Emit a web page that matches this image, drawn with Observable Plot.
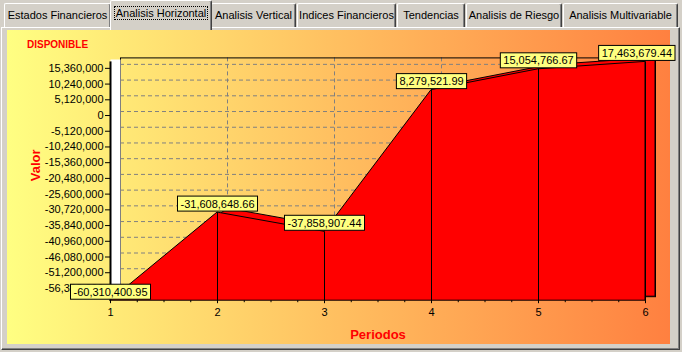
<!DOCTYPE html>
<html><head><meta charset="utf-8">
<script src="https://cdn.jsdelivr.net/npm/d3@7"></script>
<script src="https://cdn.jsdelivr.net/npm/@observablehq/plot@0.6"></script>
<style>
html,body{margin:0;padding:0;}
body{width:682px;height:352px;background:#d4d0c8;position:relative;overflow:hidden;font-family:"Liberation Sans",Arial,sans-serif;}
.tab{position:absolute;top:3px;height:25px;box-sizing:border-box;background:#d4d0c8;border-top:1px solid #fff;border-left:1px solid #fff;border-right:1px solid #404040;box-shadow:inset -1px 0 #808080;border-radius:2px 2px 0 0;font-size:11px;text-align:center;line-height:22px;color:#000;white-space:nowrap;z-index:1}
.tab.sel{top:0;height:30px;z-index:3;line-height:24px}
.tab.sel span{outline:1px dotted #000;outline-offset:0px;padding:0 1px}
#panel{position:absolute;left:1px;top:27px;width:679px;height:323px;box-sizing:border-box;border-top:1px solid #fff;border-left:1px solid #fff;border-right:1px solid #404040;border-bottom:1px solid #404040;box-shadow:inset -1px -1px #808080;z-index:2}
#chart{position:absolute;left:7px;top:30px;width:663px;height:314px;background:linear-gradient(to right,#ffff82 0%,#ffbf60 50%,#ff8040 100%);z-index:2}
#chart svg{overflow:visible;position:absolute;left:0;top:0}
#title{position:absolute;left:27px;top:39px;font-size:10px;font-weight:bold;color:#ff0000;z-index:4;line-height:12px}
</style></head>
<body>
<div id="panel"></div>
<div id="chart"></div>
<div id="title">DISPONIBLE</div>
<script>
// ---- data ----
const tabNames = ["Estados Financieros","Analisis Horizontal","Analisis Vertical","Indices Financieros","Tendencias","Analisis de Riesgo","Analisis Multivariable"];
const tabLefts = [4,111,211,297,397,466,563];
const tabRights = [111,211,296,396,465,562,678];
const selectedTab = 1;
const periods = [1,2,3,4,5,6];
const values = [-60310400.95,-31608648.66,-37858907.44,8279521.99,15054766.67,17463679.44];
const yTicks = [15360000,10240000,5120000,0,-5120000,-10240000,-15360000,-20480000,-25600000,-30720000,-35840000,-40960000,-46080000,-51200000,-56320000];
const xGridTicks = [2,3,4,5];
const minorTicks = [1,1.25,1.5,1.75,2,2.25,2.5,2.75,3,3.25,3.5,3.75,4,4.25,4.5,4.75,5,5.25,5.5,5.75,6];
const yLabel = "Valor";
const xLabel = "Periodos";

// ---- tabs ----
tabNames.forEach((t,i)=>{
  const d = document.createElement("div");
  d.className = "tab" + (i===selectedTab?" sel":"");
  let l = tabLefts[i], r = tabRights[i];
  if (i===selectedTab){ l -= 1; r += 1; }
  d.style.left = l+"px"; d.style.width = (r-l)+"px";
  d.innerHTML = "<span>"+t+"</span>";
  document.body.appendChild(d);
});

const loc = d3.formatLocale({decimal:".",thousands:",",grouping:[3],currency:["",""],minus:"-"});
const fmtInt = loc.format(",");
const fmt2 = loc.format(",.2f");

const data = periods.map((p,i)=>({period:p,value:values[i]}));
const yMin = d3.min(values), yMax = d3.max(values);
const grid = {stroke:"#808080",strokeOpacity:1,strokeDasharray:"4,3",dx:10,dy:-4};
const labelTexts = new Set(values.map(v=>fmt2(v)));

const chart = Plot.plot({
  width:663, height:314,
  marginLeft:103, marginRight:25, marginTop:31.4, marginBottom:43.8,
  x:{domain:[1,6], axis:null},
  y:{domain:[yMin,yMax], axis:null},
  style:{background:"transparent",fontFamily:"'Liberation Sans',Arial,sans-serif",fontSize:"11px",color:"#000",overflow:"visible"},
  marks:[
    Plot.gridY(yTicks, grid),
    Plot.gridX(xGridTicks, grid),
    Plot.frame({dx:10,dy:-4,stroke:"#000",fill:"none"}),
    Plot.ruleX([periods[0]],{y1:yMin,y2:yMax,dx:5,dy:-2,stroke:"#fff",strokeWidth:10}),
    Plot.areaY(data,{x:"period",y1:yMin,y2:"value",dx:10,dy:-4,fill:"#ff0000",stroke:"#000",strokeWidth:1}),
    Plot.areaY(data,{x:"period",y1:yMin,y2:"value",fill:"#ff0000",stroke:"#000",strokeWidth:1}),
    Plot.ruleX(data,{x:"period",y1:yMin,y2:"value",stroke:"#000"}),
    Plot.ruleX([periods[0]],{stroke:"#000",strokeWidth:2}),
    Plot.axisY({ticks:yTicks,tickSize:5,tickPadding:2,tickFormat:fmtInt,label:null,fontSize:11}),
    Plot.axisX({ticks:minorTicks,tickSize:2,tickFormat:()=>"",label:null}),
    Plot.axisX({ticks:periods,tickSize:3,tickPadding:4,tickFormat:d=>String(d),label:null,fontSize:11}),
    Plot.text(data,{x:"period",y:"value",text:d=>fmt2(d.value),dy:-8.5,lineAnchor:"middle",fill:"#000",fontSize:11}),
    Plot.text([yLabel],{frameAnchor:"left",dx:-75,rotate:-90,fill:"#ff0000",fontWeight:"bold",fontSize:13,lineAnchor:"middle"}),
    Plot.text([xLabel],{frameAnchor:"bottom",dy:34,fill:"#ff0000",fontWeight:"bold",fontSize:13,lineAnchor:"middle"})
  ]
});
document.getElementById("chart").appendChild(chart);

// yellow label boxes behind the value labels
const svgNS = "http://www.w3.org/2000/svg";
const svgBox = chart.getBoundingClientRect();
chart.querySelectorAll("text").forEach(t=>{
  if (!labelTexts.has(t.textContent)) return;
  const b = t.getBBox();
  const r = t.getBoundingClientRect();
  const rect = document.createElementNS(svgNS,"rect");
  const cy = b.y + b.height/2;
  rect.setAttribute("x", b.x-3);
  rect.setAttribute("y", cy-7.5);
  rect.setAttribute("width", b.width+6);
  rect.setAttribute("height", 15);
  rect.setAttribute("fill","#ffff80");
  rect.setAttribute("stroke","#000");
  rect.setAttribute("stroke-width","1");
  const tr = t.getAttribute("transform") || "";
  const absRight = r.right - svgBox.left + 3;
  const shift = absRight > 668 ? absRight - 668 : 0;
  const extra = shift ? ` translate(${-shift},0)` : "";
  if (tr || extra) rect.setAttribute("transform", tr + extra);
  if (extra) t.setAttribute("transform", tr + extra);
  t.parentNode.insertBefore(rect, t);
});
</script>
</body></html>
